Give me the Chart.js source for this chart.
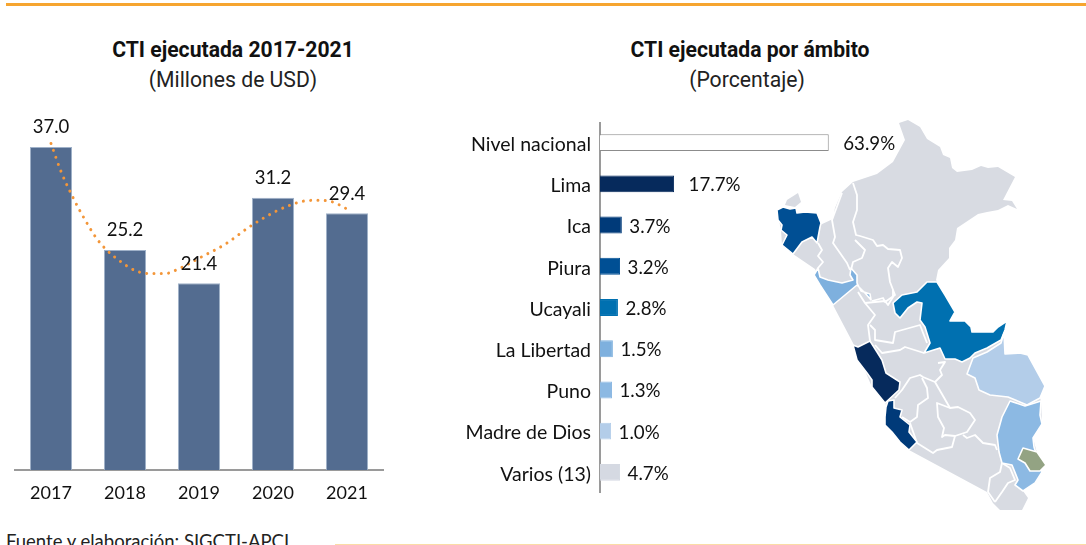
<!DOCTYPE html>
<html lang="es">
<head>
<meta charset="utf-8">
<title>CTI ejecutada</title>
<script src="https://cdn.jsdelivr.net/npm/chart.js@4"></script>
<style>
html,body{margin:0;padding:0;width:1086px;height:545px;overflow:hidden;background:#fff}
.abs{position:absolute}
.title{font:700 21.15px Roboto,sans-serif;color:#111;white-space:nowrap;transform:translateX(-50%);line-height:24px}
.sub{font:400 21.2px Roboto,sans-serif;color:#222;white-space:nowrap;transform:translateX(-50%);line-height:24px}
#foot{left:6px;top:530px;font:400 18.5px Lato,sans-serif;color:#222;white-space:nowrap;line-height:22px}
</style>
</head>
<body>
<div class="abs" style="left:6px;top:3px;width:1080px;height:3px;background:#f6a530"></div>
<div class="abs" style="left:335px;top:544px;width:751px;height:1px;background:#fbdca6"></div>
<div class="abs title" style="left:233px;top:38px">CTI ejecutada 2017-2021</div>
<div class="abs sub" style="left:233px;top:68px">(Millones de USD)</div>
<div class="abs title" style="left:750px;top:38px">CTI ejecutada por ámbito</div>
<div class="abs sub" style="left:747px;top:68px">(Porcentaje)</div>
<div class="abs" id="foot">Fuente y elaboración: SIGCTI-APCI</div>

<svg class="abs" style="left:0;top:0" width="1086" height="545" viewBox="0 0 1086 545">
  <g fill="#d8dbe2">
    <polygon points="899,123 908,120 920,127 927,139 940,147 943,155 950,158 952,168 957,172 972,170 981,166 988,168 998,167 1015,177 1003,200 1012,201 1017,209 1008,205 998,210 987,212 978,214 957,228 955,240 949,248 949,258 938,270 936,280 945,295 955,312 950,321 965,321 972,332 993,332 1004,333 1005,354 1028,355 1045,386 1040,398 1041,401 1042,424 1033,438 1042,472 1035,483 1023,491 1028,498 1022,510 1000,510 993,503 987,492 909,450 885,403 872,387 853,343 833,305 815,269 793,254 782,245 781,230 777,210 783,207 820,225 833,219 835,208 842,192 853,182 877,174 893,162 905,140"/>
    <polygon points="787,200 798,193 801,202 795,207 785,205"/>
  </g>
  <g fill="none" stroke="#fff" stroke-width="1.8" stroke-linejoin="round">
    <polyline points="853,183 857,195 857,210 853,222 856,235 860,236 873,240 877,246 883,245 888,249 900,250 902,258 898,267 892,262 888,268 890,282 895,295 885,302 883,298 872,301"/>
    <polyline points="855,240 865,250 862,258 853,262 851,270"/>
    <polyline points="842,193 832,220 835,237 833,243 847,263 850,270"/>
    <polyline points="818,243 822,250 818,256 823,262 818,268"/>
    <polyline points="858,292 865,303 875,315 868,325 870,341"/>
    <polyline points="865,303 885,301 888,305 893,297 893,290"/>
    <polyline points="870,325 875,330 875,340 893,343 895,332 920,325 927,343"/>
    <polyline points="875,345 882,353 900,350 905,347 924,353"/>
    <polyline points="938,363 945,362 940,370 942,375 935,382 923,377 920,375 910,378 902,390 895,398"/>
    <polyline points="922,378 927,388 928,398 918,405 917,417 910,422 902,417"/>
    <polyline points="935,382 950,408"/>
    <polygon points="937,403 950,408 958,407 970,413 975,420 967,432 955,436 945,435 942,437 944,428 938,417"/>
    <polyline points="910,423 917,443 933,453 937,450 952,447 955,436"/>
    <polyline points="963,435 967,438 975,435 983,443 995,445 997,450"/>
    <polyline points="1002,463 1010,468 1015,480 1008,483 1002,492 995,502"/>
    <polyline points="1002,463 1000,472 990,478 988,492 995,502"/>
  </g>
  <g stroke="#fff" stroke-width="1.6" stroke-linejoin="round">
    <polygon fill="#004f94" points="783,207 777,210 778,220 782,225 781,230 787,235 782,245 793,254 802,242 812,237 817,243 820,227 821,223 817,213 805,212 797,213 796,208 790,209"/>
    <polygon fill="#7eb0de" points="818,268 814,275 820,285 833,305 845,295 857,285 865,293 871,300 870,294 861,291 857,283 857,275 851,268 850,275 853,280 842,283 828,280 820,277"/>
    <polygon fill="#0070b0" points="927,282 937,282 945,295 955,312 950,321 965,321 971,327 972,332 993,332 998,327 1007,321 1005,330 1001,340 987,348 975,353 970,358 962,362 955,359 945,359 940,348 924,353 930,343 925,327 920,320 922,303 917,302 908,308 900,318 895,313 893,303 902,295 917,292"/>
    <polygon fill="#b3cde9" points="1004,333 1005,354 1020,353 1028,355 1045,386 1040,398 1027,405 1008,397 990,395 979,390 975,378 967,374 973,358 987,352 1001,343"/>
    <polygon fill="#8cb9e3" points="1010,401 1025,406 1041,401 1040,415 1042,424 1033,438 1034,447 1042,472 1035,483 1023,491 1015,485 1018,480 1012,465 1002,463 999,452 997,435 1002,417"/>
    <polygon fill="#93a383" points="1023,448 1037,452 1046,465 1040,471 1030,471 1025,463 1018,459"/>
    <polygon fill="#062a5c" points="870,341 877,352 882,360 886,373 900,382 899,390 885,403 872,387 872,380 867,373 857,360 853,345 858,347"/>
    <polygon fill="#003a79" points="886,407 888,401 894,400 894,408 902,410 900,417 910,425 909,432 917,442 909,450 900,442 892,432 885,425 885,417"/>
  </g>
</svg>

<canvas class="abs" id="left" style="left:14px;top:110px" width="370" height="395"></canvas>
<canvas class="abs" id="right" style="left:440px;top:122px" width="470" height="371"></canvas>

<script>
// Left chart
const years = ['2017', '2018', '2019', '2020', '2021'];
const amounts = [37.0, 25.2, 21.4, 31.2, 29.4];
const trendYears = [2017.00, 2017.14, 2017.31, 2017.45, 2017.61, 2017.74, 2017.97, 2018.15, 2018.34, 2018.54, 2018.74, 2019.01, 2019.36, 2019.69, 2020.03, 2020.22, 2020.41, 2020.61, 2020.81, 2021.00];
const trendValues = [37.4, 34.1, 31.0, 28.8, 26.6, 25.3, 23.7, 22.8, 22.5, 22.5, 23.1, 24.3, 25.9, 27.9, 29.6, 30.3, 30.8, 30.9, 30.7, 29.9];

// Right chart
const scopes = ['Nivel nacional', 'Lima', 'Ica', 'Piura', 'Ucayali', 'La Libertad', 'Puno', 'Madre de Dios', 'Varios (13)'];
const shares = [63.9, 17.7, 3.7, 3.2, 2.8, 1.5, 1.3, 1.0, 4.7];
// The reference's bars are not proportional to their printed shares; these are the lengths as drawn.
const drawnLengths = [63.9, 20.7, 6.1, 5.6, 5.0, 3.6, 3.35, 3.1, 5.6];
const scopeFills = ['#ffffff', '#062a5c', '#003a79', '#004f94', '#0070b0', '#7eb0de', '#8cb9e3', '#b3cde9', '#d5d9e2'];
const scopeEdges = ['#8c8c8c', '#062a5c', '#003a79', '#004f94', '#0070b0', '#7eb0de', '#8cb9e3', '#b3cde9', '#d5d9e2'];

Chart.defaults.font.family = 'Lato, sans-serif';
Chart.defaults.color = '#1a1a1a';

const amountLabels = {
  id: 'amountLabels',
  afterDatasetsDraw(chart) {
    const c = chart.ctx, bars = chart.getDatasetMeta(0).data;
    c.save();
    c.font = '18.5px Lato, sans-serif'; c.fillStyle = '#111';
    c.textAlign = 'center'; c.textBaseline = 'middle';
    bars.forEach((b, i) => c.fillText(amounts[i].toFixed(1), b.x, b.y - 19.5));
    c.restore();
  }
};
const shareLabels = {
  id: 'shareLabels',
  afterDatasetsDraw(chart) {
    const c = chart.ctx, bars = chart.getDatasetMeta(0).data;
    c.save();
    c.font = '18.7px Lato, sans-serif'; c.fillStyle = '#111';
    c.textAlign = 'left'; c.textBaseline = 'middle';
    bars.forEach((b, i) => c.fillText(shares[i].toFixed(1) + '%', b.x + (shares[i] > 10 ? 14.5 : 7.5), b.y + 1.5));
    c.restore();
  }
};

new Chart(document.getElementById('left'), {
  type: 'bar',
  data: {
    labels: years,
    datasets: [
      { type: 'bar', data: amounts, order: 2, grouped: false, backgroundColor: '#536c90', borderColor: '#9fb1c9', borderWidth: 1, categoryPercentage: 1, barPercentage: 0.57 },
      { type: 'line', xAxisID: 'trend', order: 1, data: trendYears.map((x, i) => ({ x, y: trendValues[i] })),
        borderColor: '#f39639', borderWidth: 3, borderCapStyle: 'round', borderDash: [0.01, 7.3], pointRadius: 0, cubicInterpolationMode: 'monotone', fill: false }
    ]
  },
  options: {
    responsive: false, animation: false, events: [],
    layout: { padding: 0 },
    plugins: { legend: { display: false }, tooltip: { enabled: false }, title: { display: false } },
    scales: {
      x: { type: 'category', grid: { display: false, drawTicks: false }, border: { display: true, color: '#9a9a9a', width: 2 },
           ticks: { font: { size: 18 }, color: '#111', padding: 12, maxRotation: 0 },
           afterFit(s) { s.height = 35; s.paddingLeft = 0; s.paddingRight = 0; } },
      trend: { type: 'linear', display: false, offset: false, min: 2016.5, max: 2021.5 },
      y: { display: false, min: 0, max: 41.24 }
    }
  },
  plugins: [amountLabels]
});

new Chart(document.getElementById('right'), {
  type: 'bar',
  data: {
    labels: scopes,
    datasets: [{ data: drawnLengths, backgroundColor: scopeFills, borderColor: scopeEdges, borderWidth: 1, categoryPercentage: 1, barPercentage: 0.41 }]
  },
  options: {
    indexAxis: 'y', responsive: false, animation: false, events: [],
    layout: { padding: 0 },
    plugins: { legend: { display: false }, tooltip: { enabled: false }, title: { display: false } },
    scales: {
      y: { grid: { display: false, drawTicks: false }, border: { display: true, color: '#9a9a9a', width: 2 },
           ticks: { font: { size: 19.5 }, color: '#111', padding: 9, labelOffset: 2, autoSkip: false },
           afterFit(s) { s.width = 160; s.paddingTop = 0; s.paddingBottom = 0; } },
      x: { display: false, min: 0, max: 86.6 }
    }
  },
  plugins: [shareLabels]
});
</script>
</body>
</html>
